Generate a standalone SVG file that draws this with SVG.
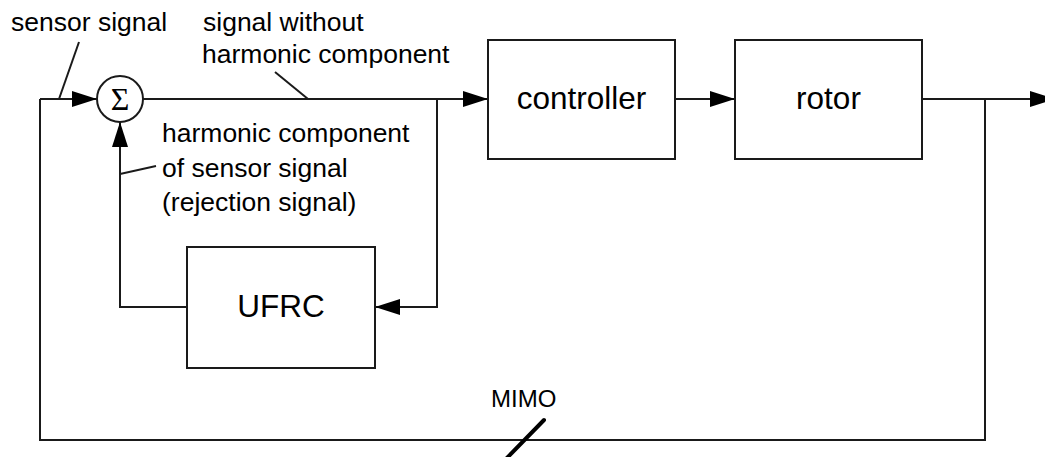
<svg xmlns="http://www.w3.org/2000/svg" width="1045" height="457" viewBox="0 0 1045 457">
<defs>
<marker id="ah" viewBox="0 0 25 16" refX="25" refY="8" markerWidth="25" markerHeight="16" markerUnits="userSpaceOnUse" orient="auto">
<path d="M0,0 L25,8 L0,16 Z" fill="#000"/>
</marker>
</defs>
<style>
.ln{fill:none;stroke:#1a1a1a;stroke-width:2}
.box{fill:#fff;stroke:#1a1a1a;stroke-width:2}
.t{font-family:"Liberation Sans",Arial,sans-serif;font-size:26.5px;fill:#000}
.bt{font-family:"Liberation Sans",Arial,sans-serif;font-size:31.5px;fill:#000;text-anchor:middle}
</style>
<rect width="1045" height="457" fill="#fff"/>
<g id="connectors">
<path class="ln" d="M40,99 H97" marker-end="url(#ah)"/>
<path class="ln" d="M143,99 H488" marker-end="url(#ah)"/>
<path class="ln" d="M437,99 V307 H375" marker-end="url(#ah)"/>
<path class="ln" d="M187,307 H120 V122" marker-end="url(#ah)"/>
<path class="ln" d="M675,99 H735" marker-end="url(#ah)"/>
<path class="ln" d="M922,99 H1055" marker-end="url(#ah)"/>
<path class="ln" d="M985,99 V440 H40 V99"/>
<path class="ln" d="M79,42 L59,99"/>
<path class="ln" d="M275,72 L308,99"/>
<path class="ln" d="M156,166 L120,174"/>
<path d="M544,420 L503,462" fill="none" stroke="#000" stroke-width="4" stroke-linecap="round"/>
</g>
<g id="sum">
<circle cx="120" cy="99" r="23" class="box"/>
<text x="120" y="110" font-family="Liberation Serif,serif" font-size="32" text-anchor="middle">Σ</text>
</g>
<g id="controller">
<rect x="488" y="40" width="187" height="119" class="box"/>
<text x="581.5" y="109" class="bt">controller</text>
</g>
<g id="rotor">
<rect x="735" y="40" width="187" height="119" class="box"/>
<text x="828.5" y="109" class="bt">rotor</text>
</g>
<g id="ufrc">
<rect x="187" y="247" width="188" height="121" class="box"/>
<text x="281" y="317" class="bt">UFRC</text>
</g>
<g id="labels">
<text x="11" y="31" class="t">sensor signal</text>
<text x="203" y="31" class="t">signal without</text>
<text x="202" y="63" class="t">harmonic component</text>
<text x="162" y="142" class="t">harmonic component</text>
<text x="162" y="177" class="t">of sensor signal</text>
<text x="162" y="211" class="t">(rejection signal)</text>
<text x="491" y="407" font-family="Liberation Sans,Arial,sans-serif" font-size="24">MIMO</text>
</g>
</svg>
